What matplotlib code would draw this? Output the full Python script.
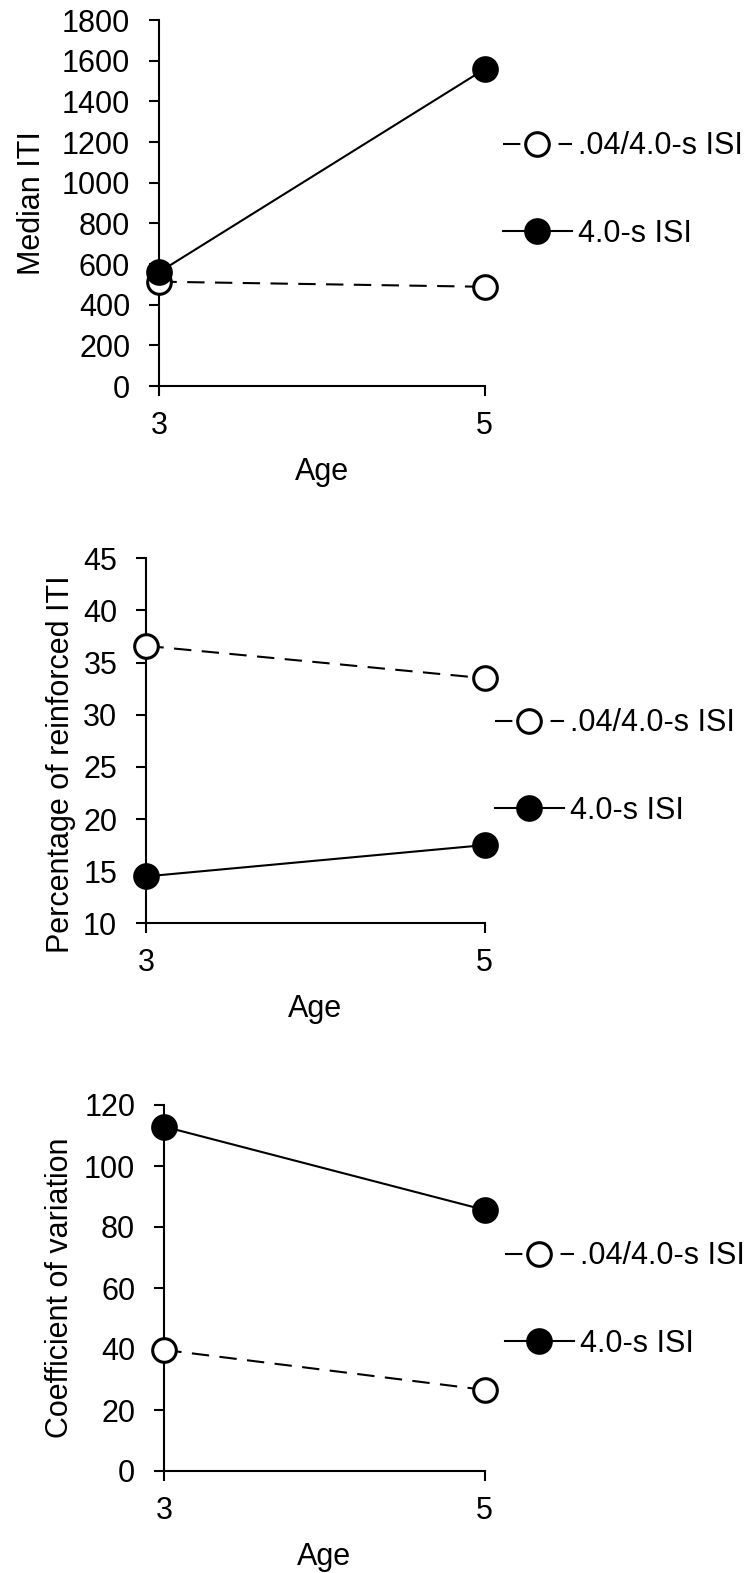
import matplotlib
matplotlib.use("Agg")
import matplotlib.pyplot as plt

plt.rcParams['font.family'] = ['Liberation Sans', 'DejaVu Sans']

ages = [3, 5]
labels = ['.04/4.0-s ISI', '4.0-s ISI']

median_iti_mixed = [513, 488]
median_iti_fixed = [561, 1558]

pct_reinf_mixed = [36.6, 33.5]
pct_reinf_fixed = [14.5, 17.5]

cv_mixed = [39.7, 26.6]
cv_fixed = [112.9, 85.6]

W, H = 754, 1573
fig = plt.figure(figsize=(W / 100, H / 100), dpi=100)

FS = 22
LW = 1.5
dash = (0, (12.5 / LW, 7.5 / LW))


def px_axes(left, right, top, bottom):
    return fig.add_axes([left / W, 1 - bottom / H, (right - left) / W, (bottom - top) / H])


def draw(ax, mixed, fixed, ylim, yticks, ylabel, ylab_x, ylab_y, leg_x, leg_y):
    ax.plot(ages, mixed, color='black', lw=LW, linestyle=dash, marker='o', ms=17,
            mfc='white', mec='black', mew=2.2, clip_on=False, zorder=3, label=labels[0])
    ax.plot(ages, fixed, color='black', lw=LW, marker='o', ms=17,
            mfc='black', mec='black', mew=2.2, clip_on=False, zorder=4, label=labels[1])
    ax.set_xlim(3, 5)
    ax.set_ylim(*ylim)
    ax.set_xticks(ages)
    ax.set_yticks(yticks)
    for s in ['top', 'right']:
        ax.spines[s].set_visible(False)
    for s in ['left', 'bottom']:
        ax.spines[s].set_linewidth(LW)
    ax.tick_params(axis='y', direction='out', length=7, width=LW, labelsize=FS, pad=14)
    ax.tick_params(axis='x', direction='out', length=7, width=LW, labelsize=FS, pad=11)
    ax.set_xlabel('Age', fontsize=FS)
    ax.xaxis.set_label_coords(0.5, -0.195)
    ax.set_ylabel(ylabel, fontsize=FS)
    ax.yaxis.set_label_coords(ylab_x, ylab_y)
    ax.legend(loc='center left', bbox_to_anchor=(leg_x / W, 1 - leg_y / H),
              bbox_transform=fig.transFigure, frameon=False, fontsize=FS,
              handlelength=2.25, handletextpad=0.22, borderpad=0, borderaxespad=0,
              labelspacing=1.87)


ax1 = px_axes(159.4, 484.5, 20, 386)
draw(ax1, median_iti_mixed, median_iti_fixed, (0, 1800), range(0, 1801, 200),
     'Median ITI', -0.346, 0.5, 503, 190)

ax2 = px_axes(146.4, 484.5, 558.3, 923.3)
draw(ax2, pct_reinf_mixed, pct_reinf_fixed, (10, 45), range(10, 46, 5),
     'Percentage of reinforced ITI', -0.208, 0.435, 495, 767)

ax3 = px_axes(164.3, 484.5, 1105, 1471)
draw(ax3, cv_mixed, cv_fixed, (0, 120), range(0, 121, 20),
     'Coefficient of variation', -0.278, 0.5, 505, 1300)

fig.savefig('out.png', dpi=100)
